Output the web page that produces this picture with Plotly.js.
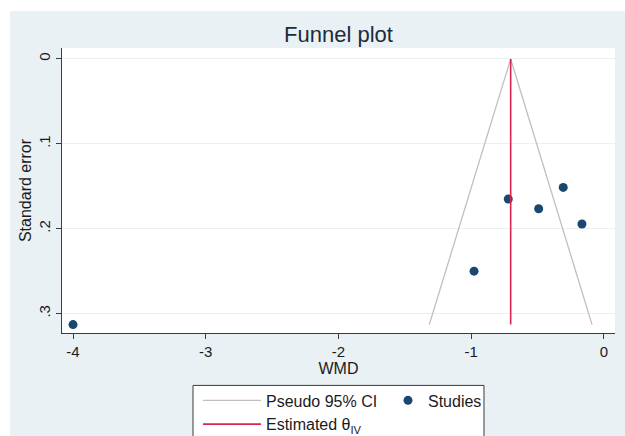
<!DOCTYPE html>
<html>
<head>
<meta charset="utf-8">
<script src="https://cdn.plot.ly/plotly-3.0.1.min.js"></script>
<style>html,body{margin:0;padding:0;background:#fff;}#chart{width:625px;height:436px;}</style>
</head>
<body>
<div id="chart"></div>
<script>
// Study estimates (WMD) and their standard errors
const studyWMD = [-4.00, -0.979, -0.721, -0.492, -0.307, -0.166];
const studySE  = [0.313, 0.250, 0.165, 0.1765, 0.1514, 0.1945];
// Pseudo 95% CI funnel vertices
const ciX = [-1.316, -0.703, -0.090];
const ciY = [0.313, 0, 0.313];
// Estimated theta (IV) line
const thetaX = [-0.703, -0.703];
const thetaY = [0, 0.313];
// Axis ticks
const xTicks = [-4, -3, -2, -1, 0];
const xTickText = ['-4', '-3', '-2', '-1', '0'];
const yTicks = [0, 0.1, 0.2, 0.3];
const yTickText = ['0', '.1', '.2', '.3'];

const FONT = 'Liberation Sans, Arial, sans-serif';
const TXT = '#1b1b1b';
const AX = '#3c3c3c';

const traces = [
  {x: ciX, y: ciY, type: 'scatter', mode: 'lines', name: 'Pseudo 95% CI',
   line: {color: '#bfbfbf', width: 1.3}, legend: 'legend', hoverinfo: 'skip'},
  {x: studyWMD, y: studySE, type: 'scatter', mode: 'markers', name: 'Studies',
   marker: {color: '#1a476f', size: 9}, legend: 'legend2'},
  {x: thetaX, y: thetaY, type: 'scatter', mode: 'lines', name: 'Estimated θ<sub>IV</sub>',
   line: {color: '#d9264f', width: 1.6}, legend: 'legend'}
];

const layout = {
  width: 625, height: 436,
  margin: {l: 62, r: 10, t: 48, b: 102.5, autoexpand: false},
  paper_bgcolor: '#ffffff', plot_bgcolor: '#ffffff',
  font: {family: FONT, color: TXT, size: 15},
  title: {text: 'Funnel plot', font: {family: FONT, size: 22, color: '#1e2b3c'},
          x: 0.5, xref: 'paper', xanchor: 'center', y: 1 - 34/436, yref: 'container', yanchor: 'middle'},
  xaxis: {range: [-4.083, 0.083], tickvals: xTicks, ticktext: xTickText,
          showgrid: false, zeroline: false, showline: true, linecolor: AX, linewidth: 1,
          ticks: 'outside', ticklen: 5, tickcolor: AX, tickfont: {size: 15, color: TXT},
          title: {text: 'WMD', font: {size: 16, color: TXT}, standoff: 3}},
  yaxis: {range: [0.3229, -0.0129], tickvals: yTicks, ticktext: yTickText,
          showgrid: true, gridcolor: '#e9f0f2', gridwidth: 1, zeroline: false,
          showline: true, linecolor: AX, linewidth: 1,
          ticks: 'outside', ticklen: 5, tickcolor: AX, tickangle: -90,
          tickfont: {size: 15, color: TXT},
          title: {text: 'Standard error', font: {size: 16, color: TXT}, standoff: 0}},
  showlegend: true,
  legend: {orientation: 'v', x: 0.2459, xanchor: 'left', y: -0.1769, yanchor: 'top',
           bgcolor: 'rgba(0,0,0,0)', borderwidth: 0, itemwidth: 58,
           font: {size: 16, color: TXT}},
  legend2: {orientation: 'v', x: 0.5895, xanchor: 'left', y: -0.1769, yanchor: 'top',
           bgcolor: 'rgba(0,0,0,0)', borderwidth: 0, itemwidth: 30,
           font: {size: 16, color: TXT}},
  shapes: [
    {type: 'rect', xref: 'paper', yref: 'paper', x0: -0.094, x1: 1.05, y0: -0.6, y1: 1.1296,
     fillcolor: '#e9f1f4', line: {width: 0}, layer: 'below'},
    {type: 'rect', xref: 'paper', yref: 'paper', x0: 0, x1: 1, y0: 0, y1: 1,
     fillcolor: '#ffffff', line: {width: 0}, layer: 'below'},
    {type: 'rect', xref: 'paper', yref: 'paper', x0: 0.2369, x1: 0.7631, y0: -0.1839, y1: -0.6,
     fillcolor: '#ffffff', line: {color: '#3a3a3a', width: 1}, layer: 'above'}
  ]
};

Plotly.newPlot('chart', traces, layout, {displayModeBar: false, staticPlot: true});
</script>
</body>
</html>
